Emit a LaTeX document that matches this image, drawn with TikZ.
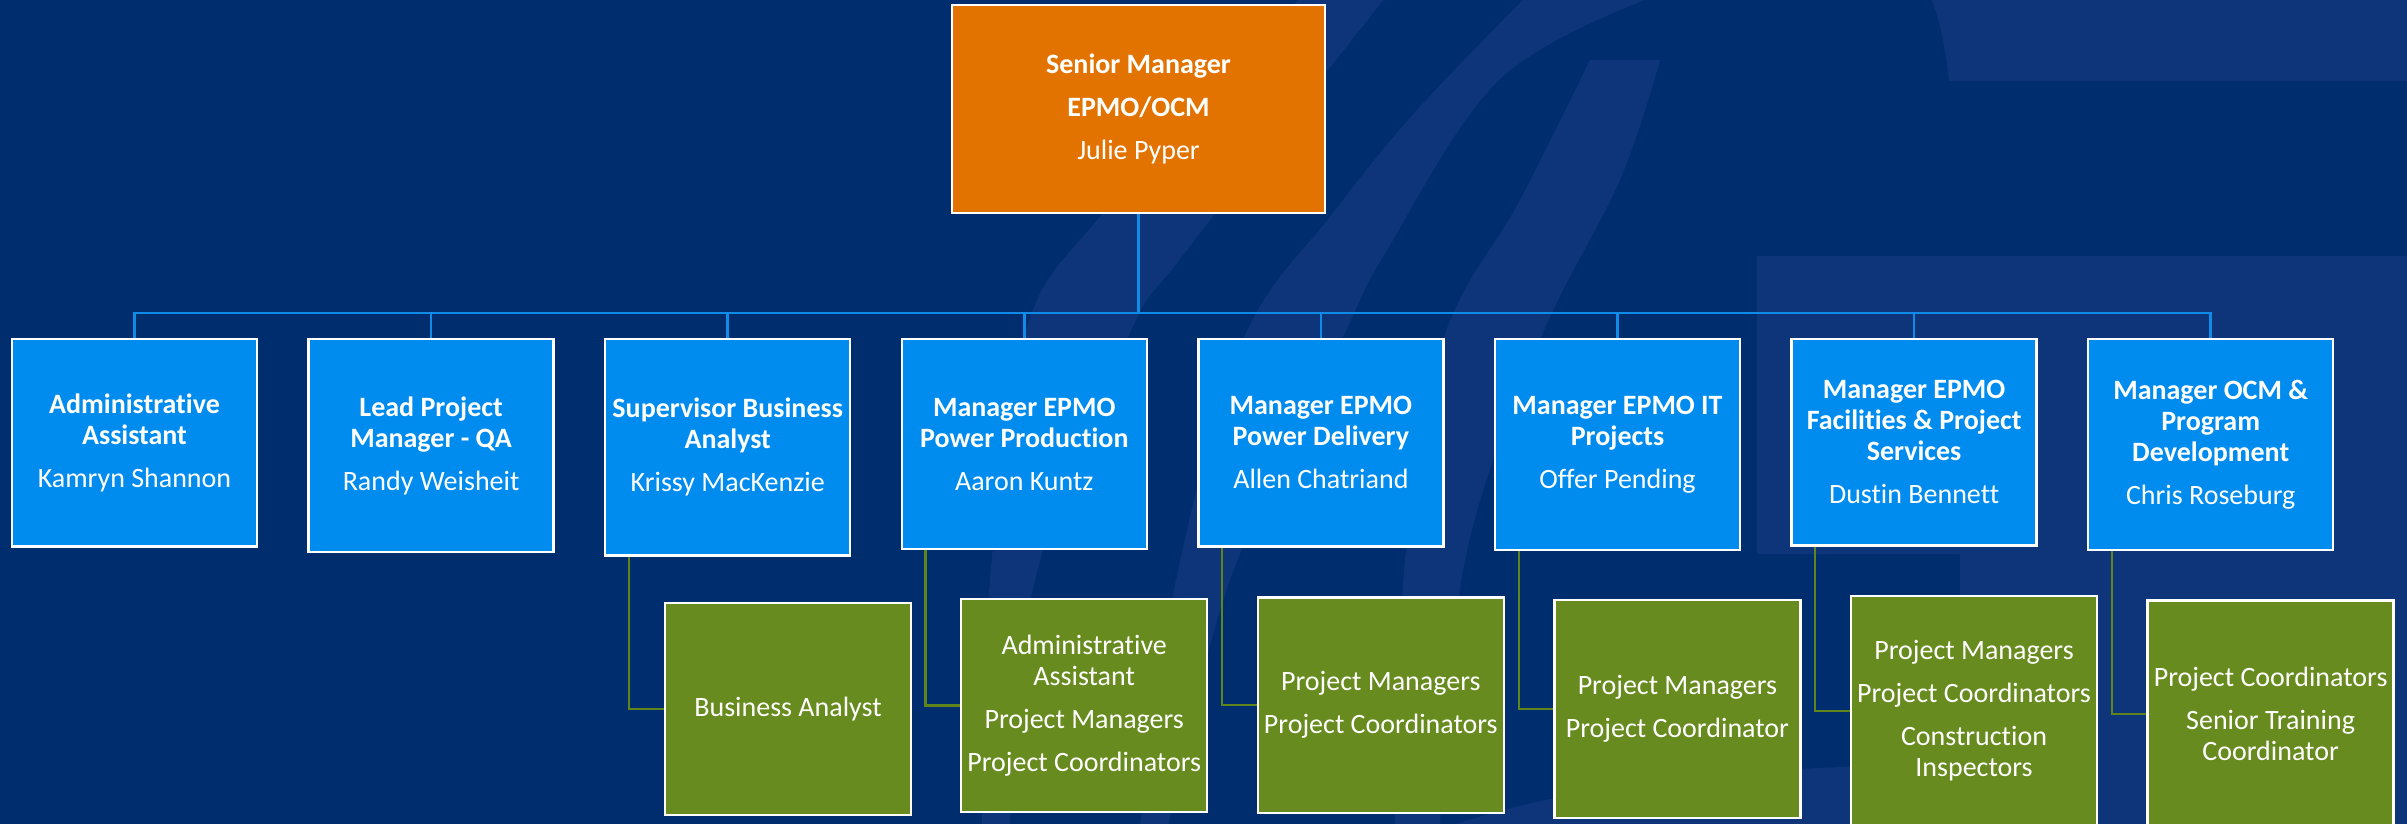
\documentclass[tikz,border=0pt]{standalone}
\usepackage{fontspec}
\setmainfont{Carlito}[Ligatures=NoCommon]
\definecolor{navy}{RGB}{0,45,110}
\definecolor{wmark}{RGB}{14,53,121}
\definecolor{orgfill}{RGB}{227,115,0}
\definecolor{bluefill}{RGB}{0,140,239}
\definecolor{blueline}{RGB}{16,140,232}
\definecolor{greenfill}{RGB}{103,139,30}
\definecolor{greenline}{RGB}{96,132,28}
\pgfdeclarelayer{bg}
\pgfsetlayers{bg,main}
\begin{document}
\begin{tikzpicture}[x=1pt,y=-1pt,
  box/.style={draw=white, line width=2.5pt, text=white, inner sep=0pt,
    align=center, font=\fontsize{28}{31}\selectfont},
  headbox/.style={box, fill=orgfill, minimum width=373pt, minimum height=208pt},
  mgrbox/.style={box, fill=bluefill, minimum width=245pt},
  teambox/.style={box, fill=greenfill, minimum width=246pt},
  bline/.style={draw=blueline, line width=2.7pt},
  gline/.style={draw=greenline, line width=2.2pt},
  wm/.style={fill=wmark}
]
\useasboundingbox (0,0) rectangle (2407,824);
\clip (0,0) rectangle (2407,824);

% head of the office
\node[headbox] (head) at (1138.5,109)
  {\textbf{Senior Manager}\\[12pt]\textbf{EPMO/OCM}\\[12pt]Julie Pyper};

% direct reports
\node[mgrbox, minimum height=207.5pt] (b1) at (134.5,442.75)
  {\textbf{Administrative}\\\textbf{Assistant}\\[12pt]Kamryn Shannon};
\node[mgrbox, minimum height=213pt] (b2) at (431.1,445.5)
  {\textbf{Lead Project}\\\textbf{Manager - QA}\\[12pt]Randy Weisheit};
\node[mgrbox, minimum height=216.5pt] (b3) at (727.7,447.25)
  {\textbf{Supervisor Business}\\\textbf{Analyst}\\[12pt]Krissy MacKenzie};
\node[mgrbox, minimum height=210pt] (b4) at (1024.3,444)
  {\textbf{Manager EPMO}\\\textbf{Power Production}\\[12pt]Aaron Kuntz};
\node[mgrbox, minimum height=207.5pt] (b5) at (1320.9,442.75)
  {\textbf{Manager EPMO}\\\textbf{Power Delivery}\\[12pt]Allen Chatriand};
\node[mgrbox, minimum height=211pt] (b6) at (1617.5,444.5)
  {\textbf{Manager EPMO IT}\\\textbf{Projects}\\[12pt]Offer Pending};
\node[mgrbox, minimum height=206.5pt] (b7) at (1914.1,442.25)
  {\textbf{Manager EPMO}\\\textbf{Facilities \& Project}\\\textbf{Services}\\[12pt]Dustin Bennett};
\node[mgrbox, minimum height=211pt] (b8) at (2210.7,444.5)
  {\textbf{Manager OCM \&}\\\textbf{Program}\\\textbf{Development}\\[12pt]Chris Roseburg};

% teams
\node[teambox, minimum height=212pt] (g1) at (788,709) {Business Analyst};
\node[teambox, minimum height=213pt] (g2) at (1084.2,705.5)
  {Administrative\\Assistant\\[12pt]Project Managers\\[12pt]Project Coordinators};
\node[teambox, minimum height=215.5pt] (g3) at (1380.8,705.25)
  {Project Managers\\[12pt]Project Coordinators};
\node[teambox, minimum height=218pt] (g4) at (1677.4,709)
  {Project Managers\\[12pt]Project Coordinator};
\node[teambox, minimum height=230pt] (g5) at (1974,711)
  {Project Managers\\[12pt]Project Coordinators\\[12pt]Construction\\Inspectors};
\node[teambox, minimum height=226.4pt] (g6) at (2270.6,713.8)
  {Project Coordinators\\[12pt]Senior Training\\Coordinator};

\begin{pgfonlayer}{bg}
  \fill[navy] (0,0) rectangle (2407,824);
  % watermark swooshes
  \fill[wm] plot[smooth, tension=0.6] coordinates
      {(1300,-2) (1103,213) (1025,333) (990,580) (982,826)}
    -- plot[smooth, tension=0.6] coordinates
      {(1010,826) (1035,580) (1128,337) (1187,250) (1385,-2)} -- cycle;
  \fill[wm] plot[smooth, tension=0.6] coordinates
      {(1525,-2) (1417,110) (1333,213) (1243,340) (1176,580) (1140,826)}
    -- plot[smooth, tension=0.6] coordinates
      {(1168,826) (1230,580) (1343,337) (1387,250) (1500,79) (1650,-2)} -- cycle;
  \fill[wm] plot[smooth, tension=0.6] coordinates
      {(1590,60) (1520,200) (1443,340) (1405,560) (1395,826)}
    -- plot[smooth, tension=0.6] coordinates
      {(1440,826) (1465,560) (1540,340) (1620,180) (1660,60)} -- cycle;
  % watermark letter form
  \fill[wm] (1931,-2) .. controls (1942,25) and (1946,55) .. (1949,81)
    -- (2410,81) -- (2410,-2) -- cycle;
  \fill[wm] (1757,256) -- (2410,256) -- (2410,826) -- (1960,826)
    -- (1960,554) -- (1757,554) -- cycle;
  \fill[wm] (1450,826) .. controls (1600,775) and (1800,765) .. (1960,765)
    -- (1960,826) -- cycle;

  % reporting lines
  \coordinate (bus) at (0,313);
  \foreach \i in {1,...,8}
    \draw[bline] (head.south) -- (head.south |- bus) -| (b\i.north);
  \foreach \b/\g in {3/1,4/2,5/3,6/4,7/5,8/6}
    \draw[gline] ([xshift=25pt]b\b.south west) |- (g\g.west);
\end{pgfonlayer}
\end{tikzpicture}
\end{document}
